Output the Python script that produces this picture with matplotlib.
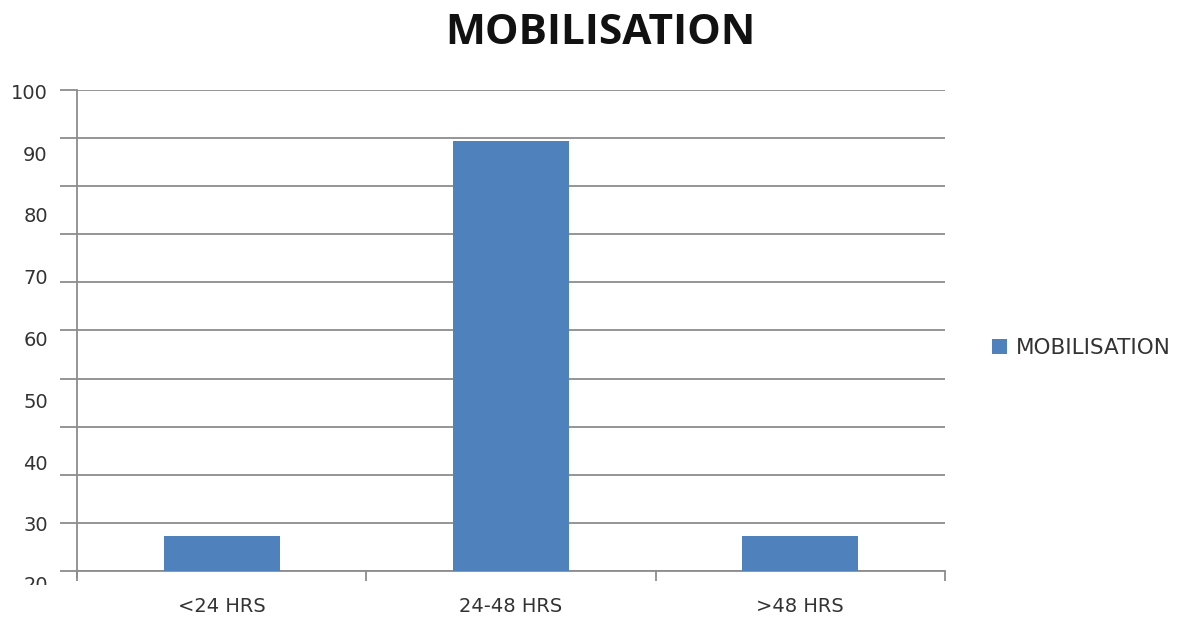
import matplotlib
matplotlib.use("Agg")
import matplotlib.pyplot as plt
import matplotlib.transforms as mtransforms
from matplotlib.patches import Rectangle
import numpy as np

# Data
categories = ["<24 HRS", "24-48 HRS", ">48 HRS"]
mobilisation = [28, 92, 28]
y_tick_values = [30, 40, 50, 60, 70, 80, 90, 100]
series_name = "MOBILISATION"
title = "MOBILISATION"

bar_color = "#4F81BD"
grid_color = "#8C8C8C"
text_color = "#333333"

fig = plt.figure(figsize=(11.83, 6.17), dpi=100)
ax = fig.add_axes([0.0651, 0.0746, 0.7337, 0.7796])

y_lo, y_hi = 22.36, 100.24
x = np.arange(len(categories))
bars = ax.bar(x, mobilisation, width=0.40, color=bar_color, label=series_name,
              zorder=3)
ax.set_xlim(-0.5, len(categories) - 0.5)
ax.set_ylim(y_lo, y_hi)

# Horizontal gridlines: ten equal bands across the plot height
grid_pos = np.linspace(y_lo, y_hi, 11)
ax.set_yticks(grid_pos, minor=True)
ax.yaxis.grid(True, which="minor", color=grid_color, linewidth=1.3, zorder=0)
ax.tick_params(axis="y", which="minor", length=12, width=1.3, color=grid_color)

# Value labels
ax.set_yticks(y_tick_values)
ax.set_yticklabels([str(v) for v in y_tick_values])
ax.tick_params(axis="y", which="major", length=0, pad=21, labelsize=14,
               labelcolor=text_color)

# Lowest label, partly hidden below the axis
trans = mtransforms.blended_transform_factory(ax.transAxes, ax.transData)
ax.text(-0.0334, 20, "20", transform=trans, ha="right", va="center",
        fontsize=14, color=text_color, clip_on=False)
fig.add_artist(Rectangle((0, 0), 0.06, 0.0518, transform=fig.transFigure,
                         facecolor="white", edgecolor="none", zorder=5))

# Category axis
ax.set_xticks(x)
ax.set_xticklabels(categories, fontsize=14, color=text_color)
ax.tick_params(axis="x", which="major", length=0, pad=19)
ax.set_xticks(np.arange(-0.5, len(categories)), minor=True)
ax.tick_params(axis="x", which="minor", length=7, width=1.3, color=grid_color)

for side in ("top", "right"):
    ax.spines[side].set_visible(False)
for side in ("left", "bottom"):
    ax.spines[side].set_color(grid_color)
    ax.spines[side].set_linewidth(1.3)
ax.spines["left"].set_bounds(y_lo - 1.0, y_hi)

fig.text(0.5075, 0.945, title, ha="center", va="center", fontsize=30.5,
         fontweight="bold", fontfamily="Open Sans", color="#111111")

leg = fig.legend(handles=[bars], labels=[series_name], loc="center left",
                 bbox_to_anchor=(0.8225, 0.436), frameon=False, fontsize=15.5,
                 handlelength=0.7, handleheight=0.7, handletextpad=0.4)
for txt in leg.get_texts():
    txt.set_color(text_color)

fig.savefig("out.png", dpi=100)
